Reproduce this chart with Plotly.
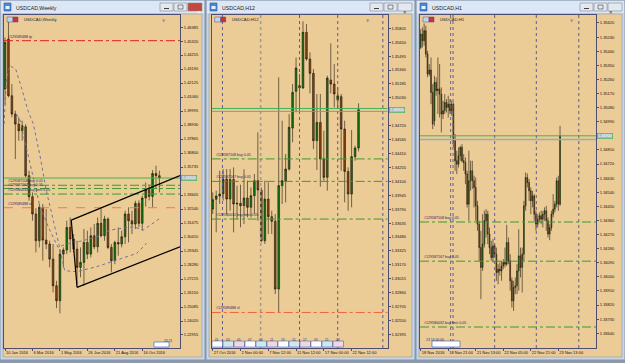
import plotly.graph_objects as go

W, H = 625, 363

# ---------------- DATA ----------------
# Weekly USDCAD (candle index 0 = week of 10 Jan 2016)
wk_open = [1.4167, 1.4548, 1.4116, 1.3977, 1.3901, 1.3850, 1.3880, 1.3508, 1.3348, 1.3216,
           1.3013, 1.3267, 1.3018, 1.2988, 1.2873, 1.2670, 1.2556, 1.2911, 1.2942, 1.3114,
           1.3026, 1.2949, 1.2810, 1.2848, 1.3000, 1.2911, 1.3051, 1.2967, 1.3145, 1.3051,
           1.3178, 1.2962, 1.2861, 1.3000, 1.2988, 1.3043, 1.3216, 1.3165, 1.3140, 1.3297,
           1.3145, 1.3338, 1.3401, 1.3350, 1.3525, 1.3508]
wk_high = [1.4560, 1.4687, 1.4205, 1.4002, 1.3952, 1.3926, 1.3900, 1.3546, 1.3380, 1.3260,
           1.3292, 1.3292, 1.3254, 1.3013, 1.2988, 1.2708, 1.2949, 1.2962, 1.3165, 1.3190,
           1.3064, 1.3013, 1.2962, 1.3102, 1.3089, 1.3114, 1.3140, 1.3190, 1.3254, 1.3203,
           1.3190, 1.2988, 1.3013, 1.3114, 1.3089, 1.3241, 1.3267, 1.3241, 1.3317, 1.3320,
           1.3355, 1.3457, 1.3440, 1.3551, 1.3584, 1.3546]
wk_low = [1.4050, 1.4104, 1.3952, 1.3634, 1.3774, 1.3774, 1.3495, 1.3317, 1.3165, 1.2924,
          1.2962, 1.2861, 1.2949, 1.2810, 1.2620, 1.2500, 1.2460, 1.2810, 1.2911, 1.2924,
          1.2924, 1.2683, 1.2734, 1.2670, 1.2873, 1.2886, 1.2949, 1.2924, 1.3038, 1.3013,
          1.2949, 1.2772, 1.2835, 1.2899, 1.2962, 1.2988, 1.3000, 1.3064, 1.3102, 1.3114,
          1.3089, 1.3272, 1.3320, 1.3267, 1.3406, 1.3381]
wk_close = [1.4522, 1.4116, 1.3977, 1.3901, 1.3850, 1.3888, 1.3508, 1.3348, 1.3216, 1.3013,
            1.3267, 1.3018, 1.2988, 1.2873, 1.2670, 1.2556, 1.2911, 1.2942, 1.3114, 1.3026,
            1.2949, 1.2810, 1.2848, 1.3000, 1.2911, 1.3051, 1.2967, 1.3145, 1.3051, 1.3178,
            1.2962, 1.2861, 1.3000, 1.2988, 1.3043, 1.3216, 1.3165, 1.3140, 1.3297, 1.3145,
            1.3338, 1.3401, 1.3350, 1.3525, 1.3508, 1.3490]
wk_tick_idx = [0, 8, 16, 24, 32, 40]
wk_tick_txt = ["10 Jan 2016", "6 Mar 2016", "1 May 2016", "26 Jun 2016", "21 Aug 2016", "16 Oct 2016"]
wk_price_ticks = [1.22955, 1.24020, 1.25085, 1.26150, 1.27215, 1.28280, 1.29345, 1.30410,
                  1.31475, 1.32540, 1.33605, 1.35735, 1.36800, 1.37865, 1.38930,
                  1.39995, 1.41060, 1.42125, 1.43190, 1.44255, 1.45320, 1.46385]
# dotted indicator lines on the weekly chart (candle index, price)
wk_ind_a_x = [-0.29, 0.39, 1.36, 3.11, 4.76, 6.70, 8.25, 10.10, 12.04, 14.56, 15.92, 17.38,
              20.87, 26.70, 32.52, 38.35, 41.26]
wk_ind_a_y = [1.3901, 1.4231, 1.4345, 1.4319, 1.4180, 1.4002, 1.3901, 1.3672, 1.3393, 1.3119,
              1.2962, 1.2785, 1.2777, 1.2815, 1.2866, 1.2916, 1.2993]
wk_ind_b_x = [3.30, 4.37, 7.28, 10.19, 13.11, 15.44, 17.86, 22.72, 27.57, 30.58, 37.38, 40.29, 45.15]
wk_ind_b_y = [1.3977, 1.3931, 1.3601, 1.3272, 1.3089, 1.2962, 1.2988, 1.3013, 1.3051, 1.3094,
              1.3119, 1.3094, 1.3183]
# channel drawn on the weekly chart
chan_up_x = [19.3, 51.0]
chan_up_y = [1.3170, 1.3508]
chan_lo_x = [21.0, 51.0]
chan_lo_y = [1.2658, 1.2967]
chan_edge_x = [19.3, 21.0]
chan_edge_y = [1.3170, 1.2658]

# H12 USDCAD
h12_open = [1.33792, 1.33900, 1.33937, 1.33959, 1.34126, 1.33903, 1.34122, 1.33848, 1.33855, 1.33829,
            1.33915, 1.33811, 1.33941, 1.34108, 1.34004, 1.33439, 1.33903, 1.33707, 1.33655, 1.32901,
            1.34052, 1.34108, 1.34237, 1.34694, 1.35103, 1.35166, 1.35140, 1.35760, 1.35463, 1.35303,
            1.34553, 1.34757, 1.34349, 1.34145, 1.35229, 1.35184, 1.35006, 1.35043, 1.34683, 1.34211,
            1.33959, 1.34375, 1.34471]
h12_high = [1.33978, 1.33996, 1.34219, 1.34237, 1.34237, 1.34237, 1.34256, 1.34052, 1.34063, 1.34234,
            1.34108, 1.34033, 1.34182, 1.34646, 1.34033, 1.34108, 1.34089, 1.33773, 1.33736, 1.35259,
            1.34776, 1.34405, 1.34850, 1.35184, 1.35481, 1.35296, 1.35882, 1.35853, 1.35537, 1.35351,
            1.35073, 1.35073, 1.34665, 1.35277, 1.35637, 1.35407, 1.35147, 1.35073, 1.34776, 1.34256,
            1.34672, 1.34497, 1.34969]
h12_low = [1.33736, 1.33532, 1.33848, 1.33885, 1.33736, 1.33773, 1.33532, 1.33681, 1.33588, 1.33625,
           1.33699, 1.33699, 1.33736, 1.33662, 1.33421, 1.33402, 1.33513, 1.33513, 1.32845, 1.32641,
           1.33848, 1.33866, 1.34219, 1.34535, 1.34869, 1.34887, 1.35129, 1.35444, 1.35080, 1.34460,
           1.34226, 1.34041, 1.34108, 1.33996, 1.35080, 1.34924, 1.34906, 1.34219, 1.33866, 1.33773,
           1.33811, 1.34330, 1.34434]
h12_close = [1.33896, 1.33937, 1.33959, 1.34126, 1.33903, 1.34122, 1.33848, 1.33855, 1.33829, 1.33915,
             1.33811, 1.33941, 1.34108, 1.34004, 1.33439, 1.33903, 1.33707, 1.33655, 1.32901, 1.34052,
             1.34108, 1.34237, 1.34702, 1.35091, 1.35363, 1.35140, 1.35760, 1.35463, 1.35303, 1.34553,
             1.34757, 1.34349, 1.34145, 1.35251, 1.35184, 1.35073, 1.35054, 1.34683, 1.34211, 1.33959,
             1.34375, 1.34471, 1.34898]
h12_tick_idx = [0, 8, 16, 24, 32, 40]
h12_tick_txt = ["27 Oct 2016", "2 Nov 00:00", "7 Nov 12:00", "11 Nov 12:00", "17 Nov 00:00", "22 Nov 12:00"]
h12_price_ticks = [1.32395, 1.32550, 1.32705, 1.32860, 1.33015, 1.33170, 1.33325, 1.33480,
                   1.33635, 1.33790, 1.33945, 1.34100, 1.34255, 1.34410, 1.34565, 1.34720,
                   1.35030, 1.35185, 1.35340, 1.35495, 1.35650, 1.35805]
h12_separators = [2.8, 25.0, 36.0, 49.0]
h12_marker_line = [13.8]

# H1 USDCAD
h1_open = [1.35464, 1.35549, 1.35507, 1.35571, 1.35422, 1.35294, 1.35320, 1.35177, 1.34996, 1.35241,
           1.35188, 1.35198, 1.35166, 1.35039, 1.35060, 1.35113, 1.35081, 1.35102, 1.35060, 1.35102,
           1.34868, 1.34741, 1.34719, 1.34773, 1.34826, 1.34741, 1.34730, 1.34656, 1.34464, 1.34613,
           1.34677, 1.34613, 1.34570, 1.34453, 1.34336, 1.34187, 1.34060, 1.34209, 1.34358, 1.34400,
           1.34273, 1.34187, 1.34124, 1.34198, 1.34145, 1.34028, 1.34049, 1.34038, 1.34070, 1.34092,
           1.34081, 1.34219, 1.34102, 1.33975, 1.33847, 1.33932, 1.33943, 1.34038, 1.34134, 1.34060,
           1.34145, 1.34453, 1.34634, 1.34602, 1.34549, 1.34485, 1.34517, 1.34400, 1.34336, 1.34368,
           1.34390, 1.34368, 1.34400, 1.34422, 1.34358, 1.34273, 1.34315, 1.34400, 1.34432, 1.34464,
           1.34613, 1.34464]
h1_high = [1.35581, 1.35592, 1.35617, 1.35603, 1.35443, 1.35358, 1.35400, 1.35230, 1.35283, 1.35273,
           1.35400, 1.35358, 1.35209, 1.35124, 1.35166, 1.35134, 1.35156, 1.35134, 1.35124, 1.35113,
           1.34911, 1.34805, 1.34826, 1.34836, 1.34847, 1.34783, 1.34762, 1.34677, 1.34805, 1.34741,
           1.34741, 1.34645, 1.34634, 1.34485, 1.34358, 1.34294, 1.34400, 1.34422, 1.34432, 1.34422,
           1.34315, 1.34230, 1.34241, 1.34209, 1.34187, 1.34081, 1.34092, 1.34102, 1.34113, 1.34187,
           1.34332, 1.34251, 1.34145, 1.33996, 1.33975, 1.33996, 1.34081, 1.34304, 1.34187, 1.34187,
           1.34485, 1.34666, 1.34660, 1.34624, 1.34570, 1.34549, 1.34528, 1.34422, 1.34400, 1.34411,
           1.34422, 1.34422, 1.34443, 1.34453, 1.34379, 1.34336, 1.34422, 1.34528, 1.34485, 1.34634,
           1.34645, 1.34964]
h1_low = [1.35454, 1.35464, 1.35475, 1.35400, 1.35273, 1.35283, 1.35102, 1.34943, 1.34964, 1.35156,
          1.35039, 1.35017, 1.34922, 1.35007, 1.35039, 1.35049, 1.35017, 1.35039, 1.35028, 1.34826,
          1.34677, 1.34656, 1.34698, 1.34741, 1.34730, 1.34677, 1.34592, 1.34443, 1.34358, 1.34549,
          1.34560, 1.34443, 1.34358, 1.34294, 1.34102, 1.33858, 1.34038, 1.34187, 1.34251, 1.34209,
          1.34145, 1.34102, 1.34092, 1.34124, 1.33975, 1.33953, 1.34007, 1.33975, 1.34049, 1.34060,
          1.34070, 1.34081, 1.33911, 1.33804, 1.33783, 1.33890, 1.33890, 1.33911, 1.33996, 1.33900,
          1.34102, 1.34422, 1.34570, 1.34485, 1.34400, 1.34443, 1.34358, 1.34294, 1.34315, 1.34347,
          1.34336, 1.34315, 1.34358, 1.34294, 1.34251, 1.34234, 1.34294, 1.34379, 1.34411, 1.34443,
          1.34422, 1.34453]
h1_close = [1.35549, 1.35507, 1.35571, 1.35422, 1.35294, 1.35320, 1.35177, 1.34975, 1.35241, 1.35188,
            1.35198, 1.35166, 1.35039, 1.35060, 1.35113, 1.35081, 1.35102, 1.35060, 1.35102, 1.34868,
            1.34741, 1.34719, 1.34773, 1.34826, 1.34741, 1.34730, 1.34656, 1.34464, 1.34613, 1.34677,
            1.34613, 1.34570, 1.34453, 1.34336, 1.34187, 1.34060, 1.34209, 1.34358, 1.34400, 1.34273,
            1.34187, 1.34124, 1.34198, 1.34145, 1.34028, 1.34049, 1.34038, 1.34070, 1.34092, 1.34081,
            1.34219, 1.34102, 1.33975, 1.33847, 1.33932, 1.33943, 1.34038, 1.34134, 1.34060, 1.34145,
            1.34453, 1.34634, 1.34602, 1.34549, 1.34485, 1.34517, 1.34400, 1.34336, 1.34368, 1.34390,
            1.34368, 1.34400, 1.34422, 1.34358, 1.34273, 1.34315, 1.34400, 1.34432, 1.34464, 1.34613,
            1.34464, 1.34900]
h1_tick_idx = [0, 16, 32, 48, 64, 80]
h1_tick_txt = ["18 Nov 2016", "18 Nov 21:00", "21 Nov 13:00", "22 Nov 05:00", "22 Nov 21:00", "23 Nov 13:00"]
h1_price_ticks = [1.33640, 1.33730, 1.33820, 1.33910, 1.34000, 1.34090, 1.34180, 1.34270,
                  1.34360, 1.34450, 1.34540, 1.34630, 1.34720, 1.34810, 1.34990,
                  1.35080, 1.35170, 1.35260, 1.35350, 1.35440, 1.35530, 1.35620]
h1_separators = [18.8, 43.0, 67.2, 91.9]
h1_marker_line = [17.4]

# trade levels
order_prices = [1.3435, 1.3410, 1.3368]
order_labels = ["#129587108 buy 0.05", "#129587167 buy 0.05", "#129580032 buy limit 0.05"]
sl_price = 1.3264
sl_label = "#129589488 sl"
tp_price = 1.4535
tp_label = "#129589488 tp"
bid_price = 1.3490
ask_price = 1.3488
bid_text = "1.34900"

# ---------------- STYLE / LAYOUT ----------------
TAN = "#EBCC97"
FRAME = "#C9D6E7"
AXIS = "#4E4E72"
WICK = "#1E150A"
BULL = "#0E7A12"
BEAR = "#8B4513"
FONT = "Liberation Sans"


def px(x):
    return x / W


def py(y):
    return 1 - y / H


panels = [
    dict(xa="x", ya="y", xdom=(4, 180), xr=[-0.3, 51.0], yr=[1.21965, 1.47306],
         o=wk_open, h=wk_high, l=wk_low, c=wk_close, ti=wk_tick_idx, tt=wk_tick_txt,
         pt=wk_price_ticks, win=(0, 205), title="USDCAD,Weekly", active=True),
    dict(xa="x2", ya="y2", xdom=(211.7, 387.7), xr=[-0.3, 50.4], yr=[1.32244, 1.35953],
         o=h12_open, h=h12_high, l=h12_low, c=h12_close, ti=h12_tick_idx, tt=h12_tick_txt,
         pt=h12_price_ticks, win=(206, 415), title="USDCAD,H12", active=False),
    dict(xa="x3", ya="y3", xdom=(420, 596), xr=[-0.4, 101.9], yr=[1.33546, 1.35671],
         o=h1_open, h=h1_high, l=h1_low, c=h1_close, ti=h1_tick_idx, tt=h1_tick_txt,
         pt=h1_price_ticks, win=(416, 625), title="USDCAD,H1", active=False),
]

fig = go.Figure()
shapes = []
annos = []


def rect(x0, y0, x1, y1, fill, line=None, lw=0, layer="below"):
    shapes.append(dict(type="rect", xref="paper", yref="paper", x0=px(x0), x1=px(x1),
                       y0=py(y1), y1=py(y0), fillcolor=fill,
                       line=dict(color=line or fill, width=lw), layer=layer))


def hline(p, price, color, dash, width=1):
    fig.add_trace(go.Scatter(x=p["xr"], y=[price, price], mode="lines", xaxis=p["xa"], yaxis=p["ya"],
                             line=dict(color=color, dash=dash, width=width), hoverinfo="skip"))


def vline(p, xv, color, width=1):
    fig.add_trace(go.Scatter(x=[xv, xv], y=p["yr"], mode="lines", xaxis=p["xa"], yaxis=p["ya"],
                             line=dict(color=color, dash="dot", width=width), hoverinfo="skip"))


def level_label(p, price, text, color="#24246A"):
    annos.append(dict(x=p["xr"][0] + (p["xr"][1] - p["xr"][0]) * 0.012, y=price,
                      xref=p["xa"], yref=p["ya"], text=text, showarrow=False,
                      xanchor="left", yanchor="bottom", font=dict(size=3.6, color=color, family=FONT)))


# window chrome
for p in panels:
    x0, x1 = p["win"]
    rect(x0, 0, x1, 360, FRAME, "#8494AA", 1)
    rect(x0 + 1, 1, x1 - 1, 13, "#DCE7F5")
    rect(x0 + 3, 14, x1 - 3, 357, TAN, "#8C97A8", 0.6)
    rect(x0 + 4, 3, x0 + 11, 11, "#4C88D2", "#2C5C9C", 0.6)
    rect(x0 + 5.5, 6, x0 + 9.5, 9, "#E8F0FA")
    annos.append(dict(x=px(x0 + 14), y=py(7.5), xref="paper", yref="paper", text=p["title"],
                      showarrow=False, xanchor="left", yanchor="middle",
                      font=dict(size=5.2, color="#202020", family=FONT)))
    # caption buttons
    rect(x1 - 45, 3, x1 - 32, 11, "#E4E9F0", "#7D8898", 0.6)
    rect(x1 - 31, 3, x1 - 18, 11, "#E4E9F0", "#7D8898", 0.6)
    rect(x1 - 17, 3, x1 - 3, 11, "#C9463B" if p["active"] else "#E4E9F0", "#7D8898", 0.6)
    rect(x1 - 41, 8, x1 - 36, 9, "#404040")
    rect(x1 - 27, 5, x1 - 22, 9, "#E4E9F0", "#404040", 0.6)
    annos.append(dict(x=px(x1 - 10), y=py(7), xref="paper", yref="paper", text="×",
                      showarrow=False, font=dict(size=6, color="#FFFFFF" if p["active"] else "#404040",
                                                 family=FONT)))
    # in-chart caption icon + text
    cx = p["xdom"][0]
    rect(cx + 3, 17, cx + 9, 22, "#C8D0F0", "#4050A0", 0.5, layer="above")
    rect(cx + 9, 17, cx + 14, 22, "#D03030", "#4050A0", 0.5, layer="above")
    annos.append(dict(x=px(cx + 18), y=py(19.6), xref="paper", yref="paper", text=p["title"],
                      showarrow=False, xanchor="left", yanchor="middle",
                      font=dict(size=4.2, color="#202040", family=FONT)))
    # chart-shift marker
    annos.append(dict(x=px(p["xdom"][1] - 20), y=py(16.5), xref="paper", yref="paper", text="▼",
                      showarrow=False, font=dict(size=4, color="#8E8E9E", family="DejaVu Sans")))

# ---- weekly extras ----
P1, P2, P3 = panels
fig.add_trace(go.Scatter(x=wk_ind_a_x, y=wk_ind_a_y, mode="lines", xaxis="x", yaxis="y",
                         line=dict(color="#72729A", dash="dot", width=1), hoverinfo="skip"))
fig.add_trace(go.Scatter(x=wk_ind_b_x, y=wk_ind_b_y, mode="lines", xaxis="x", yaxis="y",
                         line=dict(color="#72729A", dash="dot", width=1), hoverinfo="skip"))
hline(P1, tp_price, "#E0201A", "dashdot")
level_label(P1, tp_price, tp_label)
hline(P1, sl_price, "#F0785A", "dash")
level_label(P1, sl_price, sl_label)
for pr, lab in zip(order_prices, order_labels):
    hline(P1, pr, "#3C9A2C", "dashdot")
    level_label(P1, pr, lab)
hline(P1, bid_price, "#46B24A", "solid")

# ---- H12 extras ----
for v in h12_separators:
    vline(P2, v, "#5C5C9E")
for v in h12_marker_line:
    vline(P2, v, "#A09C94", 1.6)
hline(P2, sl_price, "#F0603C", "dashdot")
level_label(P2, sl_price, sl_label)
for pr, lab in zip(order_prices, order_labels):
    hline(P2, pr, "#3C9A2C", "dashdot")
    level_label(P2, pr, lab)
hline(P2, bid_price + 0.00012, "#46B24A", "solid")
hline(P2, ask_price, "#8C8CB4", "solid")

# ---- H1 extras ----
for v in h1_separators:
    vline(P3, v, "#5C5C9E")
for v in h1_marker_line:
    vline(P3, v, "#6A6A7E")
for pr, lab in zip(order_prices, order_labels):
    hline(P3, pr, "#3C9A2C", "dashdot")
    level_label(P3, pr, lab)
hline(P3, bid_price, "#46B24A", "solid")
hline(P3, ask_price - 0.00004, "#A0A8B8", "solid", 1.5)

# candles (drawn after the lines)
for p in panels:
    fig.add_trace(go.Candlestick(
        x=list(range(len(p["o"]))), open=p["o"], high=p["h"], low=p["l"], close=p["c"],
        xaxis=p["xa"], yaxis=p["ya"], whiskerwidth=0, hoverinfo="skip",
        increasing=dict(fillcolor=BULL, line=dict(color=WICK, width=0.6)),
        decreasing=dict(fillcolor=BEAR, line=dict(color=WICK, width=0.6))))

# weekly channel on top of candles
for xs, ys in [(chan_up_x, chan_up_y), (chan_lo_x, chan_lo_y), (chan_edge_x, chan_edge_y)]:
    fig.add_trace(go.Scatter(x=xs, y=ys, mode="lines", xaxis="x", yaxis="y",
                             line=dict(color="#000000", width=1.2), hoverinfo="skip"))

# current price tags on price scales
for p in panels:
    annos.append(dict(x=px(p["xdom"][1] + 1), y=bid_price, xref="paper", yref=p["ya"], text=bid_text,
                      showarrow=False, xanchor="left", yanchor="middle", bgcolor="#A9BAC6",
                      bordercolor="#46B24A", borderwidth=0.6, borderpad=0.4,
                      font=dict(size=3.8, color="#FFFFFF", family=FONT)))

# small boxes on the time scales
rect(154, 342, 169, 347, "#FFFFFF", "#3050B0", 0.6, layer="above")
annos.append(dict(x=px(161.5), y=py(344.5), xref="paper", yref="paper", text="20.11",
                  showarrow=False, font=dict(size=3.4, color="#203080", family=FONT)))
for k in range(12):
    bx = 212 + k * 11
    rect(bx, 341, bx + 10.5, 347, ["#FFFFFF", "#CFE8F0", "#F0D8E0"][k % 3], "#3050B0", 0.5, layer="above")
    annos.append(dict(x=px(bx + 5.2), y=py(344), xref="paper", yref="paper", text="%02d" % (k * 2 + 1),
                      showarrow=False, font=dict(size=3.2, color="#203080", family=FONT)))
rect(432, 341, 460, 347, "#FFFFFF", "#3050B0", 0.6, layer="above")
annos.append(dict(x=px(446), y=py(344), xref="paper", yref="paper", text="23 14:00:00",
                  showarrow=False, font=dict(size=3.4, color="#203080", family=FONT)))

# axes
layout_axes = {}
for n, p in enumerate(panels, start=1):
    sfx = "" if n == 1 else str(n)
    layout_axes["xaxis" + sfx] = dict(
        domain=[px(p["xdom"][0]), px(p["xdom"][1])], range=p["xr"], anchor=p["ya"],
        showgrid=False, zeroline=False, showline=True, mirror=True, linecolor=AXIS, linewidth=1,
        ticks="outside", ticklen=2, tickcolor=AXIS, tickvals=p["ti"], ticktext=p["tt"],
        tickangle=0, automargin=False,
        ticklabelposition="outside right", tickfont=dict(size=4, color="#101010", family=FONT),
        rangeslider=dict(visible=False), fixedrange=True)
    layout_axes["yaxis" + sfx] = dict(
        domain=[py(348), py(15)], range=p["yr"], anchor=p["xa"], side="right",
        showgrid=False, zeroline=False, showline=True, mirror=True, linecolor=AXIS, linewidth=1,
        ticks="outside", ticklen=2, tickcolor=AXIS, tickvals=p["pt"], automargin=False,
        ticktext=["%.5f" % v for v in p["pt"]],
        tickfont=dict(size=4, color="#101010", family=FONT), fixedrange=True)

fig.update_layout(
    width=W, height=H, autosize=False, margin=dict(l=0, r=0, t=0, b=0, pad=0),
    paper_bgcolor="#8F9AA8", plot_bgcolor=TAN, showlegend=False,
    shapes=shapes, annotations=annos, **layout_axes)

fig.write_html("out.html")
